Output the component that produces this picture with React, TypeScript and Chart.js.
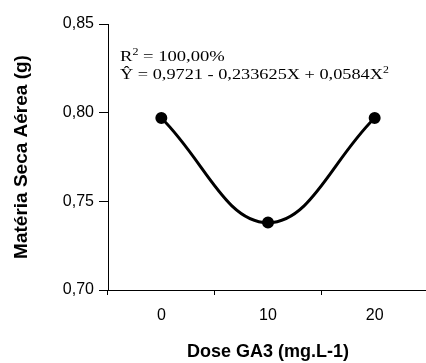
import React, { useEffect, useRef } from "react";
import { Chart, registerables } from "chart.js";

Chart.register(...registerables);

const doses = ["0", "10", "20"];
const materiaSeca = [0.797, 0.738, 0.797];
const yTicks = [0.7, 0.75, 0.8, 0.85];
const yTitle = "Matéria Seca Aérea (g)";
const xTitle = "Dose GA3 (mg.L-1)";
const r2Text = ["R", "2", " = 100,00%"];
const eqText = ["Ŷ = 0,9721 - 0,233625X + 0,0584X", "2"];

function drawSup(ctx: any, parts: string[], x: number, y: number, sx: number) {
  const big = "15.5px 'Liberation Serif', 'Times New Roman', serif";
  const small = "10px 'Liberation Serif', 'Times New Roman', serif";
  ctx.save();
  ctx.translate(x, y);
  ctx.scale(sx, 1);
  let cx = 0;
  parts.forEach((p, i) => {
    const sup = i % 2 === 1;
    ctx.font = sup ? small : big;
    ctx.fillText(p, cx, sup ? -6 : 0);
    cx += ctx.measureText(p).width;
  });
  ctx.restore();
}

const annotationPlugin = {
  id: "annotation",
  afterDraw(chart: any) {
    const { ctx, chartArea } = chart;
    const x0 = chartArea.left + 12;
    ctx.save();
    ctx.fillStyle = "#000";
    ctx.textBaseline = "alphabetic";
    ctx.textAlign = "left";
    drawSup(ctx, r2Text, x0, chartArea.top + 37, 1.2);
    drawSup(ctx, eqText, x0, chartArea.top + 55, 1.18);
    ctx.restore();
  },
};

export default function App() {
  const ref = useRef<HTMLCanvasElement | null>(null);
  useEffect(() => {
    if (!ref.current) return;
    const fmt = (v: number) => v.toFixed(2).replace(".", ",");
    const chart = new Chart(ref.current, {
      type: "line",
      data: {
        labels: doses,
        datasets: [
          {
            data: materiaSeca,
            borderColor: "#000",
            backgroundColor: "#000",
            borderWidth: 3,
            tension: 0.4,
            pointRadius: 4.5,
            pointBackgroundColor: "#000",
            pointBorderColor: "#000",
            fill: false,
          },
        ],
      },
      options: {
        animation: false,
        responsive: true,
        maintainAspectRatio: false,
        layout: { autoPadding: false, padding: { top: 24, right: 0, left: 0, bottom: 0 } },
        plugins: { legend: { display: false }, tooltip: { enabled: false } },
        scales: {
          x: {
            type: "category",
            offset: true,
            afterFit: (s: any) => {
              s.height = 73;
              s.paddingLeft = 0;
              s.paddingRight = 0;
            },
            grid: {
              offset: true,
              drawOnChartArea: false,
              drawTicks: true,
              tickLength: 5,
              color: "#000",
            },
            border: { display: true, color: "#000", width: 1 },
            ticks: {
              color: "#000",
              padding: 11,
              font: { family: "'Liberation Sans', Arial, sans-serif", size: 16 },
            },
            title: {
              display: true,
              text: xTitle,
              color: "#000",
              font: { family: "'Liberation Sans', Arial, sans-serif", size: 18, weight: "bold" },
              padding: { top: 0, bottom: 0 },
            },
          },
          y: {
            min: 0.7,
            max: 0.85,
            afterFit: (s: any) => {
              s.width = 108;
            },
            afterBuildTicks: (s: any) => {
              s.ticks = yTicks.map((v) => ({ value: v }));
            },
            grid: {
              drawOnChartArea: false,
              drawTicks: true,
              tickLength: 9,
              color: "#000",
            },
            border: { display: true, color: "#000", width: 1 },
            ticks: {
              color: "#000",
              padding: 5,
              callback: (v: any) => fmt(Number(v)),
              font: { family: "'Liberation Sans', Arial, sans-serif", size: 16 },
            },
            title: {
              display: true,
              text: yTitle,
              color: "#000",
              font: { family: "'Liberation Sans', Arial, sans-serif", size: 19, weight: "bold" },
              padding: { top: 10, bottom: 0 },
            },
          },
        },
      },
      plugins: [annotationPlugin],
    });
    return () => chart.destroy();
  }, []);
  return (
    <div style={{ position: "fixed", left: 0, top: 0, width: 428, height: 363, background: "#fff" }}>
      <canvas ref={ref} />
    </div>
  );
}
